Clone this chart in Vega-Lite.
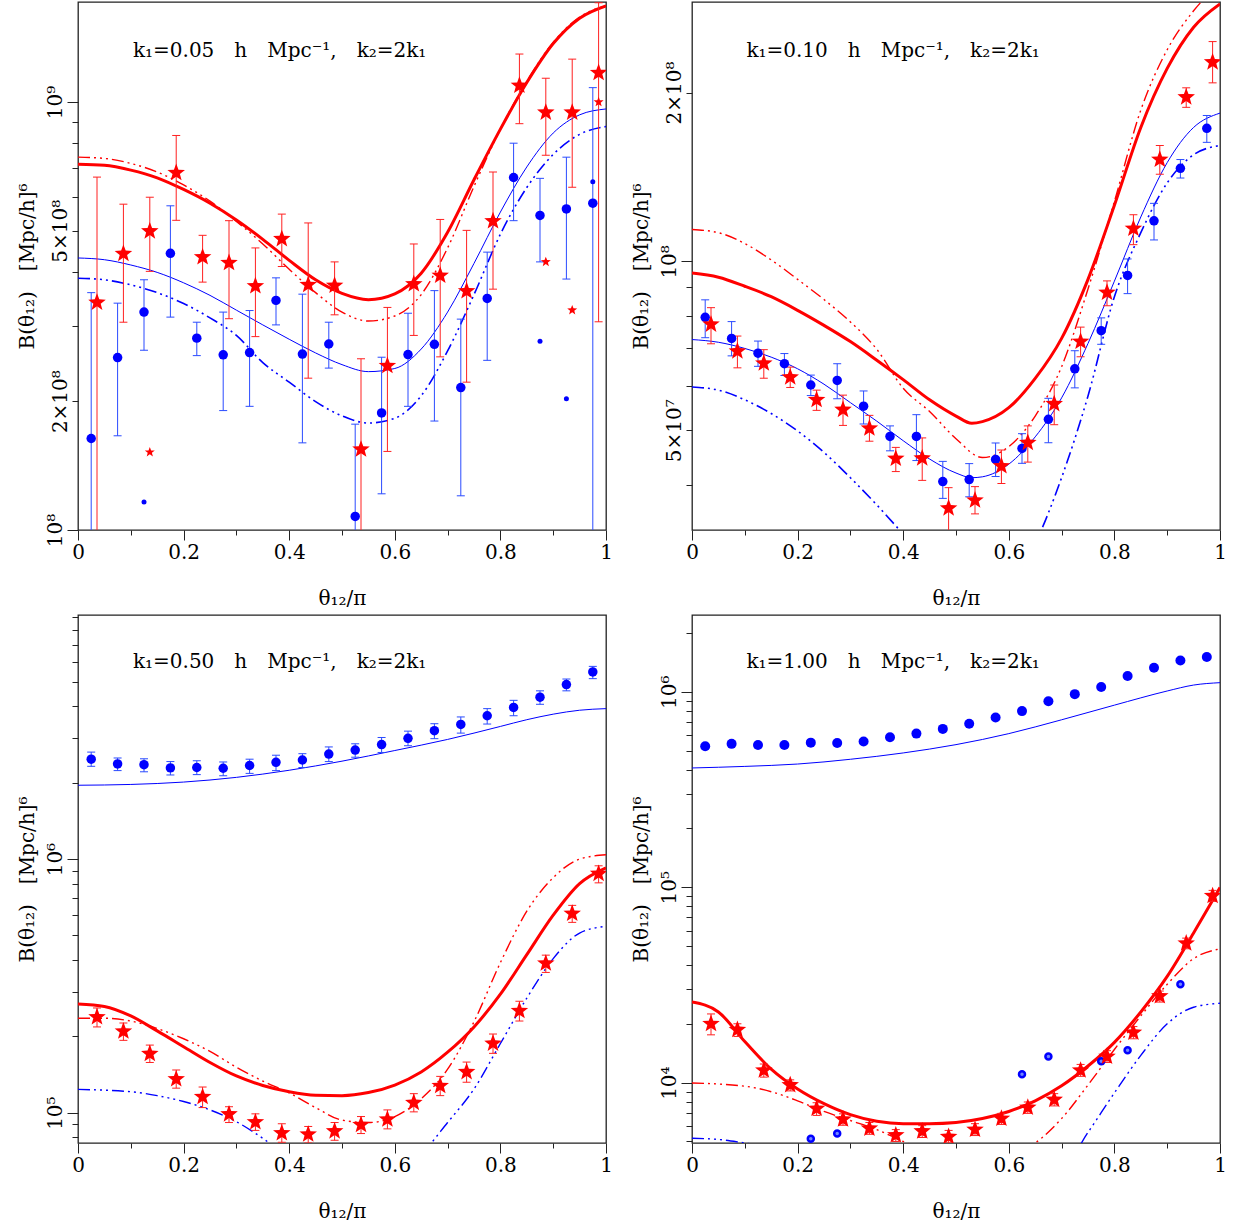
{
"$schema":"https://vega.github.io/schema/vega-lite/v6.json",
"padding":{"left":16,"top":1,"right":5,"bottom":5},
"config":{"axis":{"labelFont":"DejaVu Serif","labelFontSize":20,"titleFont":"DejaVu Serif","titleFontSize":20,"titleFontWeight":"normal","labelColor":"#000","titleColor":"#000","tickColor":"#222","grid":false,"domain":false,"labelOverlap":false,"labelFlush":false},"view":{"stroke":"#222","strokeWidth":1.3}},
"datasets":{
"p1":[
{"s":"lab","x":0.104,"y":1.318e9,"t":"k₁=0.05\u2003h\u2003Mpc⁻¹,\u2003k₂=2k₁"},
{"s":"rl","x":0,"y":7.15e8},{"s":"rl","x":0.05,"y":7.11e8},{"s":"rl","x":0.1,"y":6.93e8},{"s":"rl","x":0.15,"y":6.65e8},{"s":"rl","x":0.2,"y":6.245e8},{"s":"rl","x":0.25,"y":5.8e8},{"s":"rl","x":0.3,"y":5.3e8},{"s":"rl","x":0.35,"y":4.776e8},{"s":"rl","x":0.4,"y":4.266e8},{"s":"rl","x":0.45,"y":3.842e8},{"s":"rl","x":0.5,"y":3.571e8},{"s":"rl","x":0.55,"y":3.453e8},{"s":"rl","x":0.6,"y":3.563e8},{"s":"rl","x":0.65,"y":3.981e8},{"s":"rl","x":0.7,"y":4.96e8},{"s":"rl","x":0.75,"y":6.58e8},{"s":"rl","x":0.8,"y":8.64e8},{"s":"rl","x":0.85,"y":1.11e9},{"s":"rl","x":0.9,"y":1.369e9},{"s":"rl","x":0.95,"y":1.569e9},{"s":"rl","x":1,"y":1.677e9},
{"s":"rd","x":0,"y":7.43e8},{"s":"rd","x":0.05,"y":7.38e8},{"s":"rd","x":0.1,"y":7.185e8},{"s":"rd","x":0.15,"y":6.86e8},{"s":"rd","x":0.2,"y":6.4e8},{"s":"rd","x":0.25,"y":5.865e8},{"s":"rd","x":0.3,"y":5.26e8},{"s":"rd","x":0.35,"y":4.658e8},{"s":"rd","x":0.4,"y":4.066e8},{"s":"rd","x":0.45,"y":3.585e8},{"s":"rd","x":0.5,"y":3.229e8},{"s":"rd","x":0.55,"y":3.077e8},{"s":"rd","x":0.6,"y":3.162e8},{"s":"rd","x":0.65,"y":3.548e8},{"s":"rd","x":0.7,"y":4.56e8},{"s":"rd","x":0.75,"y":6.35e8},{"s":"rd","x":0.8,"y":8.64e8},{"s":"rd","x":0.85,"y":1.117e9},{"s":"rd","x":0.9,"y":1.378e9},{"s":"rd","x":0.95,"y":1.579e9},{"s":"rd","x":1,"y":1.677e9},
{"s":"bl","x":0,"y":4.32e8},{"s":"bl","x":0.05,"y":4.28e8},{"s":"bl","x":0.1,"y":4.16e8},{"s":"bl","x":0.15,"y":3.998e8},{"s":"bl","x":0.2,"y":3.78e8},{"s":"bl","x":0.25,"y":3.533e8},{"s":"bl","x":0.3,"y":3.263e8},{"s":"bl","x":0.35,"y":3.014e8},{"s":"bl","x":0.4,"y":2.79e8},{"s":"bl","x":0.45,"y":2.592e8},{"s":"bl","x":0.5,"y":2.434e8},{"s":"bl","x":0.55,"y":2.344e8},{"s":"bl","x":0.6,"y":2.384e8},{"s":"bl","x":0.65,"y":2.647e8},{"s":"bl","x":0.7,"y":3.229e8},{"s":"bl","x":0.75,"y":4.196e8},{"s":"bl","x":0.8,"y":5.53e8},{"s":"bl","x":0.85,"y":7.05e8},{"s":"bl","x":0.9,"y":8.46e8},{"s":"bl","x":0.95,"y":9.33e8},{"s":"bl","x":1,"y":9.63e8},
{"s":"bd","x":0,"y":3.874e8},{"s":"bd","x":0.05,"y":3.842e8},{"s":"bd","x":0.1,"y":3.738e8},{"s":"bd","x":0.15,"y":3.585e8},{"s":"bd","x":0.2,"y":3.381e8},{"s":"bd","x":0.25,"y":3.13e8},{"s":"bd","x":0.3,"y":2.848e8},{"s":"bd","x":0.35,"y":2.46e8},{"s":"bd","x":0.4,"y":2.215e8},{"s":"bd","x":0.45,"y":1.995e8},{"s":"bd","x":0.5,"y":1.847e8},{"s":"bd","x":0.55,"y":1.778e8},{"s":"bd","x":0.6,"y":1.824e8},{"s":"bd","x":0.65,"y":2.059e8},{"s":"bd","x":0.7,"y":2.62e8},{"s":"bd","x":0.75,"y":3.548e8},{"s":"bd","x":0.8,"y":4.91e8},{"s":"bd","x":0.85,"y":6.31e8},{"s":"bd","x":0.9,"y":7.54e8},{"s":"bd","x":0.95,"y":8.4e8},{"s":"bd","x":1,"y":8.76e8},
{"s":"bc","x":0.025,"y":1.636e8,"lo":5e7,"hi":3.585e8},{"s":"bc","x":0.075,"y":2.528e8,"lo":1.66e8,"hi":3.388e8},{"s":"bc","x":0.125,"y":3.229e8,"lo":2.63e8,"hi":3.842e8},{"s":"bc","x":0.175,"y":4.43e8,"lo":3.143e8,"hi":5.72e8},{"s":"bc","x":0.225,"y":2.807e8,"lo":2.555e8,"hi":3.058e8},{"s":"bc","x":0.275,"y":2.566e8,"lo":1.901e8,"hi":3.229e8},{"s":"bc","x":0.325,"y":2.597e8,"lo":1.945e8,"hi":3.256e8},{"s":"bc","x":0.375,"y":3.439e8,"lo":3.014e8,"hi":3.882e8},{"s":"bc","x":0.425,"y":2.576e8,"lo":1.598e8,"hi":3.556e8},{"s":"bc","x":0.475,"y":2.72e8,"lo":2.389e8,"hi":3.058e8},{"s":"bc","x":0.525,"y":1.076e8,"lo":5e7,"hi":1.767e8},{"s":"bc","x":0.575,"y":1.877e8,"lo":1.215e8,"hi":2.533e8},{"s":"bc","x":0.625,"y":2.57e8,"lo":1.945e8,"hi":3.209e8},{"s":"bc","x":0.675,"y":2.715e8,"lo":1.797e8,"hi":3.624e8},{"s":"bc","x":0.725,"y":2.151e8,"lo":1.202e8,"hi":3.109e8},{"s":"bc","x":0.775,"y":3.475e8,"lo":2.491e8,"hi":4.458e8},{"s":"bc","x":0.825,"y":6.66e8,"lo":5.28e8,"hi":8.01e8},{"s":"bc","x":0.875,"y":5.43e8,"lo":4.23e8,"hi":6.63e8},{"s":"bc","x":0.925,"y":5.623e8,"lo":3.857e8,"hi":7.43e8},{"s":"bc","x":0.975,"y":5.8e8,"lo":5e7,"hi":1.08e9},
{"s":"bm","x":0.125,"y":1.163e8},{"s":"bm","x":0.875,"y":2.76e8},{"s":"bm","x":0.925,"y":2.025e8},{"s":"bm","x":0.975,"y":6.51e8},
{"s":"rs","x":0.036,"y":3.4e8,"lo":5e7,"hi":6.675e8},{"s":"rs","x":0.086,"y":4.42e8,"lo":3.058e8,"hi":5.77e8},{"s":"rs","x":0.136,"y":4.99e8,"lo":4.02e8,"hi":5.99e8},{"s":"rs","x":0.186,"y":6.83e8,"lo":5.29e8,"hi":8.35e8},{"s":"rs","x":0.236,"y":4.34e8,"lo":3.794e8,"hi":4.88e8},{"s":"rs","x":0.286,"y":4.21e8,"lo":3.116e8,"hi":5.28e8},{"s":"rs","x":0.336,"y":3.715e8,"lo":2.83e8,"hi":4.56e8},{"s":"rs","x":0.386,"y":4.786e8,"lo":4.126e8,"hi":5.47e8},{"s":"rs","x":0.436,"y":3.738e8,"lo":2.263e8,"hi":5.216e8},{"s":"rs","x":0.486,"y":3.724e8,"lo":3.182e8,"hi":4.23e8},{"s":"rs","x":0.536,"y":1.543e8,"lo":5e7,"hi":2.512e8},{"s":"rs","x":0.586,"y":2.419e8,"lo":1.526e8,"hi":3.311e8},{"s":"rs","x":0.636,"y":3.754e8,"lo":2.848e8,"hi":4.658e8},{"s":"rs","x":0.686,"y":3.931e8,"lo":2.538e8,"hi":5.315e8},{"s":"rs","x":0.736,"y":3.616e8,"lo":2.215e8,"hi":5.012e8},{"s":"rs","x":0.786,"y":5.27e8,"lo":3.653e8,"hi":6.86e8},{"s":"rs","x":0.836,"y":1.092e9,"lo":8.896e8,"hi":1.294e9},{"s":"rs","x":0.886,"y":9.45e8,"lo":7.507e8,"hi":1.136e9},{"s":"rs","x":0.936,"y":9.45e8,"lo":6.32e8,"hi":1.259e9},{"s":"rs","x":0.986,"y":1.17e9,"lo":3.065e8,"hi":1.705e9},
{"s":"rm","x":0.136,"y":1.52e8},{"s":"rm","x":0.886,"y":4.23e8},{"s":"rm","x":0.936,"y":3.263e8},{"s":"rm","x":0.986,"y":1.0e9}
],
"p2":[
{"s":"lab","x":0.103,"y":2.37e8,"t":"k₁=0.10\u2003h\u2003Mpc⁻¹,\u2003k₂=2k₁"},
{"s":"rl","x":0,"y":9.53e7},{"s":"rl","x":0.05,"y":9.37e7},{"s":"rl","x":0.1,"y":9.03e7},{"s":"rl","x":0.15,"y":8.65e7},{"s":"rl","x":0.2,"y":8.18e7},{"s":"rl","x":0.25,"y":7.69e7},{"s":"rl","x":0.3,"y":7.195e7},{"s":"rl","x":0.35,"y":6.665e7},{"s":"rl","x":0.4,"y":6.155e7},{"s":"rl","x":0.45,"y":5.665e7},{"s":"rl","x":0.5,"y":5.3e7},{"s":"rl","x":0.53,"y":5.145e7},{"s":"rl","x":0.55,"y":5.18e7},{"s":"rl","x":0.6,"y":5.485e7},{"s":"rl","x":0.65,"y":6.185e7},{"s":"rl","x":0.7,"y":7.29e7},{"s":"rl","x":0.75,"y":9.29e7},{"s":"rl","x":0.8,"y":1.259e8},{"s":"rl","x":0.85,"y":1.733e8},{"s":"rl","x":0.9,"y":2.208e8},{"s":"rl","x":0.95,"y":2.615e8},{"s":"rl","x":1,"y":2.878e8},
{"s":"rd","x":0,"y":1.14e8},{"s":"rd","x":0.05,"y":1.125e8},{"s":"rd","x":0.1,"y":1.076e8},{"s":"rd","x":0.15,"y":1.006e8},{"s":"rd","x":0.2,"y":9.29e7},{"s":"rd","x":0.25,"y":8.55e7},{"s":"rd","x":0.3,"y":7.8e7},{"s":"rd","x":0.35,"y":6.97e7},{"s":"rd","x":0.4,"y":5.94e7},{"s":"rd","x":0.45,"y":5.4e7},{"s":"rd","x":0.5,"y":4.83e7},{"s":"rd","x":0.55,"y":4.47e7},{"s":"rd","x":0.6,"y":4.675e7},{"s":"rd","x":0.65,"y":5.3e7},{"s":"rd","x":0.7,"y":6.49e7},{"s":"rd","x":0.75,"y":8.93e7},{"s":"rd","x":0.8,"y":1.279e8},{"s":"rd","x":0.85,"y":1.861e8},{"s":"rd","x":0.9,"y":2.384e8},{"s":"rd","x":0.95,"y":2.797e8},{"s":"rd","x":1,"y":3.127e8},
{"s":"bl","x":0,"y":7.255e7},{"s":"bl","x":0.05,"y":7.175e7},{"s":"bl","x":0.1,"y":6.995e7},{"s":"bl","x":0.15,"y":6.75e7},{"s":"bl","x":0.2,"y":6.435e7},{"s":"bl","x":0.25,"y":6.04e7},{"s":"bl","x":0.3,"y":5.6e7},{"s":"bl","x":0.35,"y":5.19e7},{"s":"bl","x":0.4,"y":4.79e7},{"s":"bl","x":0.45,"y":4.443e7},{"s":"bl","x":0.5,"y":4.195e7},{"s":"bl","x":0.53,"y":4.115e7},{"s":"bl","x":0.55,"y":4.13e7},{"s":"bl","x":0.6,"y":4.35e7},{"s":"bl","x":0.65,"y":4.866e7},{"s":"bl","x":0.7,"y":5.71e7},{"s":"bl","x":0.75,"y":7.14e7},{"s":"bl","x":0.8,"y":9.22e7},{"s":"bl","x":0.85,"y":1.2e8},{"s":"bl","x":0.9,"y":1.5e8},{"s":"bl","x":0.95,"y":1.733e8},{"s":"bl","x":1,"y":1.838e8},
{"s":"bd","x":0,"y":5.97e7},{"s":"bd","x":0.05,"y":5.895e7},{"s":"bd","x":0.1,"y":5.665e7},{"s":"bd","x":0.15,"y":5.355e7},{"s":"bd","x":0.2,"y":4.985e7},{"s":"bd","x":0.25,"y":4.565e7},{"s":"bd","x":0.3,"y":4.115e7},{"s":"bd","x":0.35,"y":3.68e7},{"s":"bd","x":0.4,"y":3.265e7},{"s":"bd","x":0.45,"y":2.897e7},{"s":"bd","x":0.5,"y":2.59e7},{"s":"bd","x":0.55,"y":2.43e7},{"s":"bd","x":0.6,"y":2.59e7},{"s":"bd","x":0.65,"y":3.137e7},{"s":"bd","x":0.7,"y":4.115e7},{"s":"bd","x":0.75,"y":5.755e7},{"s":"bd","x":0.8,"y":8.65e7},{"s":"bd","x":0.85,"y":1.125e8},{"s":"bd","x":0.9,"y":1.38e8},{"s":"bd","x":0.95,"y":1.549e8},{"s":"bd","x":1,"y":1.609e8},
{"s":"bc","x":0.025,"y":7.95e7,"lo":7.31e7,"hi":8.54e7},{"s":"bc","x":0.075,"y":7.29e7,"lo":6.785e7,"hi":7.81e7},{"s":"bc","x":0.125,"y":6.86e7,"lo":6.5e7,"hi":7.21e7},{"s":"bc","x":0.175,"y":6.57e7,"lo":6.26e7,"hi":6.85e7},{"s":"bc","x":0.225,"y":6.02e7,"lo":5.765e7,"hi":6.27e7},{"s":"bc","x":0.275,"y":6.135e7,"lo":5.69e7,"hi":6.57e7},{"s":"bc","x":0.325,"y":5.52e7,"lo":5.13e7,"hi":5.875e7},{"s":"bc","x":0.375,"y":4.875e7,"lo":4.595e7,"hi":5.09e7},{"s":"bc","x":0.425,"y":4.875e7,"lo":4.415e7,"hi":5.33e7},{"s":"bc","x":0.475,"y":4.05e7,"lo":3.78e7,"hi":4.4e7},{"s":"bc","x":0.525,"y":4.083e7,"lo":3.805e7,"hi":4.36e7},{"s":"bc","x":0.575,"y":4.436e7,"lo":4.135e7,"hi":4.745e7},{"s":"bc","x":0.625,"y":4.64e7,"lo":4.365e7,"hi":4.93e7},{"s":"bc","x":0.675,"y":5.23e7,"lo":4.75e7,"hi":5.7e7},{"s":"bc","x":0.725,"y":6.435e7,"lo":5.95e7,"hi":6.93e7},{"s":"bc","x":0.775,"y":7.525e7,"lo":7.115e7,"hi":7.93e7},{"s":"bc","x":0.825,"y":9.44e7,"lo":8.76e7,"hi":1.01e8},{"s":"bc","x":0.875,"y":1.181e8,"lo":1.092e8,"hi":1.269e8},{"s":"bc","x":0.925,"y":1.465e8,"lo":1.408e8,"hi":1.519e8},{"s":"bc","x":0.975,"y":1.727e8,"lo":1.63e8,"hi":1.82e8},
{"s":"rs","x":0.036,"y":7.72e7,"lo":7.13e7,"hi":8.27e7},{"s":"rs","x":0.086,"y":6.915e7,"lo":6.46e7,"hi":7.36e7},{"s":"rs","x":0.136,"y":6.58e7,"lo":6.19e7,"hi":6.96e7},{"s":"rs","x":0.186,"y":6.215e7,"lo":5.96e7,"hi":6.48e7},{"s":"rs","x":0.236,"y":5.665e7,"lo":5.425e7,"hi":5.895e7},{"s":"rs","x":0.286,"y":5.44e7,"lo":5.1e7,"hi":5.775e7},{"s":"rs","x":0.336,"y":5.04e7,"lo":4.78e7,"hi":5.315e7},{"s":"rs","x":0.386,"y":4.45e7,"lo":4.22e7,"hi":4.66e7},{"s":"rs","x":0.436,"y":4.457e7,"lo":4.07e7,"hi":4.845e7},{"s":"rs","x":0.486,"y":3.63e7,"lo":3.3e7,"hi":3.95e7},{"s":"rs","x":0.536,"y":3.75e7,"lo":3.547e7,"hi":3.967e7},{"s":"rs","x":0.586,"y":4.316e7,"lo":4.018e7,"hi":4.61e7},{"s":"rs","x":0.636,"y":4.75e7,"lo":4.387e7,"hi":5.09e7},{"s":"rs","x":0.686,"y":5.57e7,"lo":5.115e7,"hi":6.02e7},{"s":"rs","x":0.736,"y":7.195e7,"lo":6.76e7,"hi":7.635e7},{"s":"rs","x":0.786,"y":8.8e7,"lo":8.335e7,"hi":9.23e7},{"s":"rs","x":0.836,"y":1.144e8,"lo":1.071e8,"hi":1.211e8},{"s":"rs","x":0.886,"y":1.519e8,"lo":1.43e8,"hi":1.609e8},{"s":"rs","x":0.936,"y":1.962e8,"lo":1.882e8,"hi":2.039e8},{"s":"rs","x":0.986,"y":2.265e8,"lo":2.081e8,"hi":2.465e8}
],
"p3":[
{"s":"lab","x":0.104,"y":5.99e6,"t":"k₁=0.50\u2003h\u2003Mpc⁻¹,\u2003k₂=2k₁"},
{"s":"bl","x":0,"y":1.956e6},{"s":"bl","x":0.1,"y":1.97e6},{"s":"bl","x":0.2,"y":2.013e6},{"s":"bl","x":0.3,"y":2.101e6},{"s":"bl","x":0.4,"y":2.241e6},{"s":"bl","x":0.5,"y":2.434e6},{"s":"bl","x":0.6,"y":2.681e6},{"s":"bl","x":0.7,"y":2.965e6},{"s":"bl","x":0.8,"y":3.337e6},{"s":"bl","x":0.85,"y":3.547e6},{"s":"bl","x":0.9,"y":3.73e6},{"s":"bl","x":0.95,"y":3.866e6},{"s":"bl","x":1,"y":3.922e6},
{"s":"rl","x":0,"y":2.682e5},{"s":"rl","x":0.05,"y":2.624e5},{"s":"rl","x":0.1,"y":2.407e5},{"s":"rl","x":0.15,"y":2.101e5},{"s":"rl","x":0.2,"y":1.82e5},{"s":"rl","x":0.25,"y":1.577e5},{"s":"rl","x":0.3,"y":1.395e5},{"s":"rl","x":0.35,"y":1.28e5},{"s":"rl","x":0.4,"y":1.209e5},{"s":"rl","x":0.45,"y":1.171e5},{"s":"rl","x":0.5,"y":1.167e5},{"s":"rl","x":0.55,"y":1.2e5},{"s":"rl","x":0.6,"y":1.285e5},{"s":"rl","x":0.65,"y":1.447e5},{"s":"rl","x":0.7,"y":1.731e5},{"s":"rl","x":0.75,"y":2.178e5},{"s":"rl","x":0.8,"y":2.933e5},{"s":"rl","x":0.85,"y":4.2e5},{"s":"rl","x":0.9,"y":6.01e5},{"s":"rl","x":0.95,"y":8.006e5},{"s":"rl","x":1,"y":9.24e5},
{"s":"rd","x":0,"y":2.357e5},{"s":"rd","x":0.05,"y":2.357e5},{"s":"rd","x":0.1,"y":2.298e5},{"s":"rd","x":0.15,"y":2.147e5},{"s":"rd","x":0.2,"y":1.956e5},{"s":"rd","x":0.25,"y":1.743e5},{"s":"rd","x":0.3,"y":1.511e5},{"s":"rd","x":0.35,"y":1.332e5},{"s":"rd","x":0.4,"y":1.196e5},{"s":"rd","x":0.45,"y":1.047e5},{"s":"rd","x":0.5,"y":9.34e4},{"s":"rd","x":0.55,"y":9.14e4},{"s":"rd","x":0.6,"y":9.65e4},{"s":"rd","x":0.65,"y":1.134e5},{"s":"rd","x":0.7,"y":1.484e5},{"s":"rd","x":0.75,"y":2.282e5},{"s":"rd","x":0.8,"y":3.907e5},{"s":"rd","x":0.85,"y":6.23e5},{"s":"rd","x":0.9,"y":8.45e5},{"s":"rd","x":0.95,"y":1.0e6},{"s":"rd","x":1,"y":1.04e6},
{"s":"bd","x":0,"y":1.235e5},{"s":"bd","x":0.1,"y":1.209e5},{"s":"bd","x":0.15,"y":1.167e5},{"s":"bd","x":0.2,"y":1.106e5},{"s":"bd","x":0.25,"y":1.025e5},{"s":"bd","x":0.3,"y":9.21e4},{"s":"bd","x":0.35,"y":7.92e4},{"s":"bd","x":0.4,"y":6.62e4},{"s":"bd","x":0.5,"y":4.97e4},{"s":"bd","x":0.6,"y":5.74e4},{"s":"bd","x":0.65,"y":6.86e4},{"s":"bd","x":0.7,"y":9.14e4},{"s":"bd","x":0.75,"y":1.24e5},{"s":"bd","x":0.8,"y":1.874e5},{"s":"bd","x":0.85,"y":2.83e5},{"s":"bd","x":0.9,"y":4.05e5},{"s":"bd","x":0.95,"y":5.11e5},{"s":"bd","x":1,"y":5.435e5},
{"s":"bc","x":0.025,"y":2.478e6,"lo":2.323e6,"hi":2.643e6},{"s":"bc","x":0.075,"y":2.374e6,"lo":2.234e6,"hi":2.505e6},{"s":"bc","x":0.125,"y":2.357e6,"lo":2.21e6,"hi":2.487e6},{"s":"bc","x":0.175,"y":2.29e6,"lo":2.147e6,"hi":2.425e6},{"s":"bc","x":0.225,"y":2.298e6,"lo":2.154e6,"hi":2.443e6},{"s":"bc","x":0.275,"y":2.282e6,"lo":2.132e6,"hi":2.416e6},{"s":"bc","x":0.325,"y":2.34e6,"lo":2.178e6,"hi":2.478e6},{"s":"bc","x":0.375,"y":2.408e6,"lo":2.234e6,"hi":2.569e6},{"s":"bc","x":0.425,"y":2.46e6,"lo":2.298e6,"hi":2.605e6},{"s":"bc","x":0.475,"y":2.596e6,"lo":2.425e6,"hi":2.77e6},{"s":"bc","x":0.525,"y":2.691e6,"lo":2.523e6,"hi":2.85e6},{"s":"bc","x":0.575,"y":2.83e6,"lo":2.634e6,"hi":3.018e6},{"s":"bc","x":0.625,"y":2.996e6,"lo":2.8e6,"hi":3.197e6},{"s":"bc","x":0.675,"y":3.21e6,"lo":2.986e6,"hi":3.42e6},{"s":"bc","x":0.725,"y":3.398e6,"lo":3.14e6,"hi":3.637e6},{"s":"bc","x":0.775,"y":3.677e6,"lo":3.41e6,"hi":3.922e6},{"s":"bc","x":0.825,"y":3.964e6,"lo":3.677e6,"hi":4.229e6},{"s":"bc","x":0.875,"y":4.352e6,"lo":4.08e6,"hi":4.61e6},{"s":"bc","x":0.925,"y":4.88e6,"lo":4.61e6,"hi":5.132e6},{"s":"bc","x":0.975,"y":5.475e6,"lo":5.15e6,"hi":5.757e6},
{"s":"rs","x":0.036,"y":2.382e5,"lo":2.178e5,"hi":2.587e5},{"s":"rs","x":0.086,"y":2.094e5,"lo":1.928e5,"hi":2.257e5},{"s":"rs","x":0.136,"y":1.707e5,"lo":1.577e5,"hi":1.847e5},{"s":"rs","x":0.186,"y":1.356e5,"lo":1.249e5,"hi":1.473e5},{"s":"rs","x":0.236,"y":1.154e5,"lo":1.047e5,"hi":1.262e5},{"s":"rs","x":0.286,"y":9.858e4,"lo":9.14e4,"hi":1.055e5},{"s":"rs","x":0.336,"y":9.175e4,"lo":8.51e4,"hi":9.89e4},{"s":"rs","x":0.386,"y":8.3e4,"lo":7.64e4,"hi":9.04e4},{"s":"rs","x":0.436,"y":8.21e4,"lo":7.59e4,"hi":8.82e4},{"s":"rs","x":0.486,"y":8.45e4,"lo":7.78e4,"hi":9.14e4},{"s":"rs","x":0.536,"y":8.95e4,"lo":8.27e4,"hi":9.65e4},{"s":"rs","x":0.586,"y":9.41e4,"lo":8.63e4,"hi":1.025e5},{"s":"rs","x":0.636,"y":1.094e5,"lo":1.007e5,"hi":1.188e5},{"s":"rs","x":0.686,"y":1.276e5,"lo":1.167e5,"hi":1.39e5},{"s":"rs","x":0.736,"y":1.447e5,"lo":1.318e5,"hi":1.583e5},{"s":"rs","x":0.786,"y":1.874e5,"lo":1.713e5,"hi":2.042e5},{"s":"rs","x":0.836,"y":2.522e5,"lo":2.298e5,"hi":2.75e5},{"s":"rs","x":0.886,"y":3.88e5,"lo":3.573e5,"hi":4.18e5},{"s":"rs","x":0.936,"y":6.1e5,"lo":5.63e5,"hi":6.57e5},{"s":"rs","x":0.986,"y":8.76e5,"lo":8.06e5,"hi":9.41e5}
],
"p4":[
{"s":"lab","x":0.103,"y":1.418e6,"t":"k₁=1.00\u2003h\u2003Mpc⁻¹,\u2003k₂=2k₁"},
{"s":"bl","x":0,"y":4.074e5},{"s":"bl","x":0.1,"y":4.15e5},{"s":"bl","x":0.2,"y":4.267e5},{"s":"bl","x":0.3,"y":4.513e5},{"s":"bl","x":0.4,"y":4.863e5},{"s":"bl","x":0.5,"y":5.363e5},{"s":"bl","x":0.6,"y":6.106e5},{"s":"bl","x":0.7,"y":7.187e5},{"s":"bl","x":0.8,"y":8.54e5},{"s":"bl","x":0.9,"y":1.009e6},{"s":"bl","x":0.95,"y":1.082e6},{"s":"bl","x":1,"y":1.113e6},
{"s":"rl","x":0,"y":2.583e4},{"s":"rl","x":0.05,"y":2.299e4},{"s":"rl","x":0.1,"y":1.622e4},{"s":"rl","x":0.15,"y":1.172e4},{"s":"rl","x":0.2,"y":9.28e3},{"s":"rl","x":0.25,"y":7.81e3},{"s":"rl","x":0.3,"y":6.86e3},{"s":"rl","x":0.35,"y":6.34e3},{"s":"rl","x":0.4,"y":6.165e3},{"s":"rl","x":0.45,"y":6.165e3},{"s":"rl","x":0.5,"y":6.25e3},{"s":"rl","x":0.55,"y":6.55e3},{"s":"rl","x":0.6,"y":7.12e3},{"s":"rl","x":0.65,"y":8.07e3},{"s":"rl","x":0.7,"y":9.63e3},{"s":"rl","x":0.75,"y":1.216e4},{"s":"rl","x":0.8,"y":1.607e4},{"s":"rl","x":0.85,"y":2.299e4},{"s":"rl","x":0.9,"y":3.495e4},{"s":"rl","x":0.95,"y":5.83e4},{"s":"rl","x":1,"y":9.95e4},
{"s":"rd","x":0,"y":9.95e3},{"s":"rd","x":0.1,"y":9.59e3},{"s":"rd","x":0.15,"y":8.985e3},{"s":"rd","x":0.2,"y":8.07e3},{"s":"rd","x":0.25,"y":7.12e3},{"s":"rd","x":0.3,"y":6.4e3},{"s":"rd","x":0.35,"y":5.75e3},{"s":"rd","x":0.4,"y":5.0e3},{"s":"rd","x":0.45,"y":4.41e3},{"s":"rd","x":0.5,"y":4.02e3},{"s":"rd","x":0.55,"y":3.93e3},{"s":"rd","x":0.6,"y":4.21e3},{"s":"rd","x":0.65,"y":4.91e3},{"s":"rd","x":0.7,"y":6.55e3},{"s":"rd","x":0.75,"y":9.725e3},{"s":"rd","x":0.8,"y":1.478e4},{"s":"rd","x":0.85,"y":2.195e4},{"s":"rd","x":0.9,"y":3.185e4},{"s":"rd","x":0.95,"y":4.31e4},{"s":"rd","x":1,"y":4.84e4},
{"s":"bd","x":0,"y":5.19e3},{"s":"bd","x":0.05,"y":5.12e3},{"s":"bd","x":0.1,"y":4.91e3},{"s":"bd","x":0.15,"y":4.69e3},{"s":"bd","x":0.3,"y":3.93e3},{"s":"bd","x":0.5,"y":3.11e3},{"s":"bd","x":0.6,"y":3.18e3},{"s":"bd","x":0.7,"y":3.58e3},{"s":"bd","x":0.75,"y":5.565e3},{"s":"bd","x":0.8,"y":8.86e3},{"s":"bd","x":0.85,"y":1.379e4},{"s":"bd","x":0.9,"y":2.0e4},{"s":"bd","x":0.95,"y":2.431e4},{"s":"bd","x":1,"y":2.547e4},
{"s":"bc","x":0.025,"y":5.264e5},{"s":"bc","x":0.075,"y":5.413e5},{"s":"bc","x":0.125,"y":5.338e5},{"s":"bc","x":0.175,"y":5.338e5},{"s":"bc","x":0.225,"y":5.49e5},{"s":"bc","x":0.275,"y":5.464e5},{"s":"bc","x":0.325,"y":5.566e5},{"s":"bc","x":0.375,"y":5.856e5},{"s":"bc","x":0.425,"y":6.106e5},{"s":"bc","x":0.475,"y":6.455e5},{"s":"bc","x":0.525,"y":6.86e5},{"s":"bc","x":0.575,"y":7.39e5},{"s":"bc","x":0.625,"y":7.96e5},{"s":"bc","x":0.675,"y":8.944e5},{"s":"bc","x":0.725,"y":9.72e5},{"s":"bc","x":0.775,"y":1.057e6},{"s":"bc","x":0.825,"y":1.205e6},{"s":"bc","x":0.875,"y":1.328e6},{"s":"bc","x":0.925,"y":1.444e6},{"s":"bc","x":0.975,"y":1.506e6},
{"s":"bm","x":0.225,"y":5.166e3},{"s":"bm","x":0.275,"y":5.49e3},{"s":"bm","x":0.625,"y":1.103e4},{"s":"bm","x":0.675,"y":1.36e4},{"s":"bm","x":0.775,"y":1.285e4},{"s":"bm","x":0.825,"y":1.464e4},{"s":"bm","x":0.925,"y":3.185e4},
{"s":"rs","x":0.036,"y":2.0e4,"lo":1.756e4,"hi":2.246e4},{"s":"rs","x":0.086,"y":1.865e4,"lo":1.723e4,"hi":2.0e4},{"s":"rs","x":0.136,"y":1.155e4,"lo":1.067e4,"hi":1.245e4},{"s":"rs","x":0.186,"y":9.725e3,"lo":9.07e3,"hi":1.033e4},{"s":"rs","x":0.236,"y":7.36e3,"lo":6.795e3,"hi":7.89e3},{"s":"rs","x":0.286,"y":6.49e3,"lo":6.05e3,"hi":6.925e3},{"s":"rs","x":0.336,"y":5.83e3,"lo":5.44e3,"hi":6.25e3},{"s":"rs","x":0.386,"y":5.386e3,"lo":5.0e3,"hi":5.75e3},{"s":"rs","x":0.436,"y":5.643e3,"lo":5.238e3,"hi":6.023e3},{"s":"rs","x":0.486,"y":5.286e3,"lo":4.91e3,"hi":5.695e3},{"s":"rs","x":0.536,"y":5.75e3,"lo":5.36e3,"hi":6.165e3},{"s":"rs","x":0.586,"y":6.55e3,"lo":6.11e3,"hi":6.96e3},{"s":"rs","x":0.636,"y":7.46e3,"lo":6.96e3,"hi":7.96e3},{"s":"rs","x":0.686,"y":8.18e3,"lo":7.6e3,"hi":8.78e3},{"s":"rs","x":0.736,"y":1.155e4,"lo":1.077e4,"hi":1.239e4},{"s":"rs","x":0.786,"y":1.36e4,"lo":1.268e4,"hi":1.457e4},{"s":"rs","x":0.836,"y":1.805e4,"lo":1.676e4,"hi":1.936e4},{"s":"rs","x":0.886,"y":2.77e4,"lo":2.583e4,"hi":2.942e4},{"s":"rs","x":0.936,"y":5.165e4,"lo":4.84e4,"hi":5.487e4},{"s":"rs","x":0.986,"y":9.03e4,"lo":8.46e4,"hi":9.63e4}
]
},
"concat":[
{"width":528,"height":528,"data":{"name":"p1"},
"encoding":{
"x":{"field":"x","type":"quantitative","scale":{"domain":[0,1],"nice":false,"zero":false},"axis":{"values":[0,0.1,0.2,0.3,0.4,0.5,0.6,0.7,0.8,0.9,1],"labelExpr":"datum.value==0?'0':datum.value==0.2?'0.2':datum.value==0.4?'0.4':datum.value==0.6?'0.6':datum.value==0.8?'0.8':datum.value==1?'1':''","tickSize":{"condition":{"test":"datum.value==0||datum.value==0.2||datum.value==0.4||datum.value==0.6||datum.value==0.8||datum.value==1","value":10},"value":5},"labelPadding":2,"title":"θ₁₂/π","titlePadding":26}},
"y":{"field":"y","type":"quantitative","scale":{"type":"log","domain":[1e8,1.712e9],"nice":false},"axis":{"values":[1e8,2e8,3e8,4e8,5e8,6e8,7e8,8e8,9e8,1e9],"labelExpr":"datum.value==1e8?'10⁸':datum.value==2e8?'2×10⁸':datum.value==5e8?'5×10⁸':datum.value==1e9?'10⁹':''","tickSize":{"condition":{"test":"datum.value==1e8||datum.value==1e9","value":11},"value":6},"labelAngle":270,"labelAlign":"center","labelBaseline":"bottom","labelPadding":2,"title":"B(θ₁₂)\u2003[Mpc/h]⁶","titlePadding":8}}},
"layer":[
{"transform":[{"filter":"datum.s=='bd'"}],"mark":{"type":"line","color":"#0000ff","strokeWidth":1.6,"strokeDash":[12,4,2,4,2,4,2,4],"clip":true,"interpolate":"monotone"}},
{"transform":[{"filter":"datum.s=='bl'"}],"mark":{"type":"line","color":"#0000ff","strokeWidth":1,"clip":true,"interpolate":"monotone"}},
{"transform":[{"filter":"datum.s=='rd'"}],"mark":{"type":"line","color":"#ff0000","strokeWidth":1.4,"strokeDash":[12,4,2,4,2,4,2,4],"clip":true,"interpolate":"monotone"}},
{"transform":[{"filter":"datum.s=='rl'"}],"mark":{"type":"line","color":"#ff0000","strokeWidth":3,"clip":true,"interpolate":"monotone"}},
{"transform":[{"filter":"datum.s=='bc'"}],"mark":{"type":"rule","color":"#2a4bff","strokeWidth":1,"clip":true},"encoding":{"y":{"field":"lo","type":"quantitative","scale":{"type":"log","domain":[1e8,1.712e9],"nice":false}},"y2":{"field":"hi"}}},
{"transform":[{"filter":"datum.s=='bc'"}],"mark":{"type":"point","shape":"M-1,0L1,0","filled":false,"color":"#2a4bff","strokeWidth":1,"size":64,"opacity":1,"clip":true},"encoding":{"y":{"field":"lo","type":"quantitative","scale":{"type":"log","domain":[1e8,1.712e9],"nice":false}}}},
{"transform":[{"filter":"datum.s=='bc'"}],"mark":{"type":"point","shape":"M-1,0L1,0","filled":false,"color":"#2a4bff","strokeWidth":1,"size":64,"opacity":1,"clip":true},"encoding":{"y":{"field":"hi","type":"quantitative","scale":{"type":"log","domain":[1e8,1.712e9],"nice":false}}}},
{"transform":[{"filter":"datum.s=='rs'"}],"mark":{"type":"rule","color":"#ff2020","strokeWidth":1,"clip":true},"encoding":{"y":{"field":"lo","type":"quantitative","scale":{"type":"log","domain":[1e8,1.712e9],"nice":false}},"y2":{"field":"hi"}}},
{"transform":[{"filter":"datum.s=='rs'"}],"mark":{"type":"point","shape":"M-1,0L1,0","filled":false,"color":"#ff2020","strokeWidth":1,"size":64,"opacity":1,"clip":true},"encoding":{"y":{"field":"lo","type":"quantitative","scale":{"type":"log","domain":[1e8,1.712e9],"nice":false}}}},
{"transform":[{"filter":"datum.s=='rs'"}],"mark":{"type":"point","shape":"M-1,0L1,0","filled":false,"color":"#ff2020","strokeWidth":1,"size":64,"opacity":1,"clip":true},"encoding":{"y":{"field":"hi","type":"quantitative","scale":{"type":"log","domain":[1e8,1.712e9],"nice":false}}}},
{"transform":[{"filter":"datum.s=='bc'"}],"mark":{"type":"point","shape":"circle","filled":true,"color":"#0000ff","size":90,"opacity":1,"clip":true}},
{"transform":[{"filter":"datum.s=='bm'"}],"mark":{"type":"point","shape":"circle","filled":true,"color":"#0000ff","size":25,"opacity":1,"clip":true}},
{"transform":[{"filter":"datum.s=='rs'"}],"mark":{"type":"point","shape":"M0,-1L0.247,-0.34L0.951,-0.309L0.399,0.13L0.588,0.809L0,0.42L-0.588,0.809L-0.399,0.13L-0.951,-0.309L-0.247,-0.34Z","filled":true,"color":"#ff0000","size":340,"opacity":1,"clip":true}},
{"transform":[{"filter":"datum.s=='rm'"}],"mark":{"type":"point","shape":"M0,-1L0.247,-0.34L0.951,-0.309L0.399,0.13L0.588,0.809L0,0.42L-0.588,0.809L-0.399,0.13L-0.951,-0.309L-0.247,-0.34Z","filled":true,"color":"#ff0000","size":110,"opacity":1,"clip":true}},
{"transform":[{"filter":"datum.s=='lab'"}],"mark":{"type":"text","align":"left","baseline":"middle","font":"DejaVu Serif","fontSize":20,"color":"#000"},"encoding":{"text":{"field":"t"}}}
]},
{"width":528,"height":528,"data":{"name":"p2"},
"encoding":{
"x":{"field":"x","type":"quantitative","scale":{"domain":[0,1],"nice":false,"zero":false},"axis":{"values":[0,0.1,0.2,0.3,0.4,0.5,0.6,0.7,0.8,0.9,1],"labelExpr":"datum.value==0?'0':datum.value==0.2?'0.2':datum.value==0.4?'0.4':datum.value==0.6?'0.6':datum.value==0.8?'0.8':datum.value==1?'1':''","tickSize":{"condition":{"test":"datum.value==0||datum.value==0.2||datum.value==0.4||datum.value==0.6||datum.value==0.8||datum.value==1","value":10},"value":5},"labelPadding":2,"title":"θ₁₂/π","titlePadding":26}},
"y":{"field":"y","type":"quantitative","scale":{"type":"log","domain":[3.32e7,2.9e8],"nice":false},"axis":{"values":[4e7,5e7,6e7,7e7,8e7,9e7,1e8,2e8],"labelExpr":"datum.value==5e7?'5×10⁷':datum.value==1e8?'10⁸':datum.value==2e8?'2×10⁸':''","tickSize":{"condition":{"test":"datum.value==1e8","value":11},"value":6},"labelAngle":270,"labelAlign":"center","labelBaseline":"bottom","labelPadding":2,"title":"B(θ₁₂)\u2003[Mpc/h]⁶","titlePadding":8}}},
"layer":[
{"transform":[{"filter":"datum.s=='bd'"}],"mark":{"type":"line","color":"#0000ff","strokeWidth":1.6,"strokeDash":[12,4,2,4,2,4,2,4],"clip":true,"interpolate":"monotone"}},
{"transform":[{"filter":"datum.s=='bl'"}],"mark":{"type":"line","color":"#0000ff","strokeWidth":1,"clip":true,"interpolate":"monotone"}},
{"transform":[{"filter":"datum.s=='rd'"}],"mark":{"type":"line","color":"#ff0000","strokeWidth":1.4,"strokeDash":[12,4,2,4,2,4,2,4],"clip":true,"interpolate":"monotone"}},
{"transform":[{"filter":"datum.s=='rl'"}],"mark":{"type":"line","color":"#ff0000","strokeWidth":3,"clip":true,"interpolate":"monotone"}},
{"transform":[{"filter":"datum.s=='bc'"}],"mark":{"type":"rule","color":"#2a4bff","strokeWidth":1,"clip":true},"encoding":{"y":{"field":"lo","type":"quantitative","scale":{"type":"log","domain":[3.32e7,2.9e8],"nice":false}},"y2":{"field":"hi"}}},
{"transform":[{"filter":"datum.s=='bc'"}],"mark":{"type":"point","shape":"M-1,0L1,0","filled":false,"color":"#2a4bff","strokeWidth":1,"size":64,"opacity":1,"clip":true},"encoding":{"y":{"field":"lo","type":"quantitative","scale":{"type":"log","domain":[3.32e7,2.9e8],"nice":false}}}},
{"transform":[{"filter":"datum.s=='bc'"}],"mark":{"type":"point","shape":"M-1,0L1,0","filled":false,"color":"#2a4bff","strokeWidth":1,"size":64,"opacity":1,"clip":true},"encoding":{"y":{"field":"hi","type":"quantitative","scale":{"type":"log","domain":[3.32e7,2.9e8],"nice":false}}}},
{"transform":[{"filter":"datum.s=='rs'"}],"mark":{"type":"rule","color":"#ff2020","strokeWidth":1,"clip":true},"encoding":{"y":{"field":"lo","type":"quantitative","scale":{"type":"log","domain":[3.32e7,2.9e8],"nice":false}},"y2":{"field":"hi"}}},
{"transform":[{"filter":"datum.s=='rs'"}],"mark":{"type":"point","shape":"M-1,0L1,0","filled":false,"color":"#ff2020","strokeWidth":1,"size":64,"opacity":1,"clip":true},"encoding":{"y":{"field":"lo","type":"quantitative","scale":{"type":"log","domain":[3.32e7,2.9e8],"nice":false}}}},
{"transform":[{"filter":"datum.s=='rs'"}],"mark":{"type":"point","shape":"M-1,0L1,0","filled":false,"color":"#ff2020","strokeWidth":1,"size":64,"opacity":1,"clip":true},"encoding":{"y":{"field":"hi","type":"quantitative","scale":{"type":"log","domain":[3.32e7,2.9e8],"nice":false}}}},
{"transform":[{"filter":"datum.s=='bc'"}],"mark":{"type":"point","shape":"circle","filled":true,"color":"#0000ff","size":90,"opacity":1,"clip":true}},
{"transform":[{"filter":"datum.s=='rs'"}],"mark":{"type":"point","shape":"M0,-1L0.247,-0.34L0.951,-0.309L0.399,0.13L0.588,0.809L0,0.42L-0.588,0.809L-0.399,0.13L-0.951,-0.309L-0.247,-0.34Z","filled":true,"color":"#ff0000","size":340,"opacity":1,"clip":true}},
{"transform":[{"filter":"datum.s=='lab'"}],"mark":{"type":"text","align":"left","baseline":"middle","font":"DejaVu Serif","fontSize":20,"color":"#000"},"encoding":{"text":{"field":"t"}}}
]},
{"width":528,"height":528,"data":{"name":"p3"},
"encoding":{
"x":{"field":"x","type":"quantitative","scale":{"domain":[0,1],"nice":false,"zero":false},"axis":{"values":[0,0.1,0.2,0.3,0.4,0.5,0.6,0.7,0.8,0.9,1],"labelExpr":"datum.value==0?'0':datum.value==0.2?'0.2':datum.value==0.4?'0.4':datum.value==0.6?'0.6':datum.value==0.8?'0.8':datum.value==1?'1':''","tickSize":{"condition":{"test":"datum.value==0||datum.value==0.2||datum.value==0.4||datum.value==0.6||datum.value==0.8||datum.value==1","value":10},"value":5},"labelPadding":2,"title":"θ₁₂/π","titlePadding":26}},
"y":{"field":"y","type":"quantitative","scale":{"type":"log","domain":[7.59e4,9.18e6],"nice":false},"axis":{"values":[8e4,9e4,1e5,2e5,3e5,4e5,5e5,6e5,7e5,8e5,9e5,1e6,2e6,3e6,4e6,5e6,6e6,7e6,8e6,9e6],"labelExpr":"datum.value==1e5?'10⁵':datum.value==1e6?'10⁶':''","tickSize":{"condition":{"test":"datum.value==1e5||datum.value==1e6","value":11},"value":6},"labelAngle":270,"labelAlign":"center","labelBaseline":"bottom","labelPadding":2,"title":"B(θ₁₂)\u2003[Mpc/h]⁶","titlePadding":8}}},
"layer":[
{"transform":[{"filter":"datum.s=='bd'"}],"mark":{"type":"line","color":"#0000ff","strokeWidth":1.4,"strokeDash":[12,4,2,4,2,4,2,4],"clip":true,"interpolate":"monotone"}},
{"transform":[{"filter":"datum.s=='bl'"}],"mark":{"type":"line","color":"#0000ff","strokeWidth":1,"clip":true,"interpolate":"monotone"}},
{"transform":[{"filter":"datum.s=='rd'"}],"mark":{"type":"line","color":"#ff0000","strokeWidth":1.4,"strokeDash":[12,4,2,4,2,4,2,4],"clip":true,"interpolate":"monotone"}},
{"transform":[{"filter":"datum.s=='rl'"}],"mark":{"type":"line","color":"#ff0000","strokeWidth":3,"clip":true,"interpolate":"monotone"}},
{"transform":[{"filter":"datum.s=='bc'"}],"mark":{"type":"rule","color":"#2a4bff","strokeWidth":1,"clip":true},"encoding":{"y":{"field":"lo","type":"quantitative","scale":{"type":"log","domain":[7.59e4,9.18e6],"nice":false}},"y2":{"field":"hi"}}},
{"transform":[{"filter":"datum.s=='bc'"}],"mark":{"type":"point","shape":"M-1,0L1,0","filled":false,"color":"#2a4bff","strokeWidth":1,"size":64,"opacity":1,"clip":true},"encoding":{"y":{"field":"lo","type":"quantitative","scale":{"type":"log","domain":[7.59e4,9.18e6],"nice":false}}}},
{"transform":[{"filter":"datum.s=='bc'"}],"mark":{"type":"point","shape":"M-1,0L1,0","filled":false,"color":"#2a4bff","strokeWidth":1,"size":64,"opacity":1,"clip":true},"encoding":{"y":{"field":"hi","type":"quantitative","scale":{"type":"log","domain":[7.59e4,9.18e6],"nice":false}}}},
{"transform":[{"filter":"datum.s=='rs'"}],"mark":{"type":"rule","color":"#ff2020","strokeWidth":1,"clip":true},"encoding":{"y":{"field":"lo","type":"quantitative","scale":{"type":"log","domain":[7.59e4,9.18e6],"nice":false}},"y2":{"field":"hi"}}},
{"transform":[{"filter":"datum.s=='rs'"}],"mark":{"type":"point","shape":"M-1,0L1,0","filled":false,"color":"#ff2020","strokeWidth":1,"size":64,"opacity":1,"clip":true},"encoding":{"y":{"field":"lo","type":"quantitative","scale":{"type":"log","domain":[7.59e4,9.18e6],"nice":false}}}},
{"transform":[{"filter":"datum.s=='rs'"}],"mark":{"type":"point","shape":"M-1,0L1,0","filled":false,"color":"#ff2020","strokeWidth":1,"size":64,"opacity":1,"clip":true},"encoding":{"y":{"field":"hi","type":"quantitative","scale":{"type":"log","domain":[7.59e4,9.18e6],"nice":false}}}},
{"transform":[{"filter":"datum.s=='bc'"}],"mark":{"type":"point","shape":"circle","filled":true,"color":"#0000ff","size":90,"opacity":1,"clip":true}},
{"transform":[{"filter":"datum.s=='rs'"}],"mark":{"type":"point","shape":"M0,-1L0.247,-0.34L0.951,-0.309L0.399,0.13L0.588,0.809L0,0.42L-0.588,0.809L-0.399,0.13L-0.951,-0.309L-0.247,-0.34Z","filled":true,"color":"#ff0000","size":340,"opacity":1,"clip":true}},
{"transform":[{"filter":"datum.s=='lab'"}],"mark":{"type":"text","align":"left","baseline":"middle","font":"DejaVu Serif","fontSize":20,"color":"#000"},"encoding":{"text":{"field":"t"}}}
]},
{"width":528,"height":528,"data":{"name":"p4"},
"encoding":{
"x":{"field":"x","type":"quantitative","scale":{"domain":[0,1],"nice":false,"zero":false},"axis":{"values":[0,0.1,0.2,0.3,0.4,0.5,0.6,0.7,0.8,0.9,1],"labelExpr":"datum.value==0?'0':datum.value==0.2?'0.2':datum.value==0.4?'0.4':datum.value==0.6?'0.6':datum.value==0.8?'0.8':datum.value==1?'1':''","tickSize":{"condition":{"test":"datum.value==0||datum.value==0.2||datum.value==0.4||datum.value==0.6||datum.value==0.8||datum.value==1","value":10},"value":5},"labelPadding":2,"title":"θ₁₂/π","titlePadding":26}},
"y":{"field":"y","type":"quantitative","scale":{"type":"log","domain":[4.91e3,2.47e6],"nice":false},"axis":{"values":[5e3,6e3,7e3,8e3,9e3,1e4,2e4,3e4,4e4,5e4,6e4,7e4,8e4,9e4,1e5,2e5,3e5,4e5,5e5,6e5,7e5,8e5,9e5,1e6,2e6],"labelExpr":"datum.value==1e4?'10⁴':datum.value==1e5?'10⁵':datum.value==1e6?'10⁶':''","tickSize":{"condition":{"test":"datum.value==1e4||datum.value==1e5||datum.value==1e6","value":11},"value":6},"labelAngle":270,"labelAlign":"center","labelBaseline":"bottom","labelPadding":2,"title":"B(θ₁₂)\u2003[Mpc/h]⁶","titlePadding":8}}},
"layer":[
{"transform":[{"filter":"datum.s=='bd'"}],"mark":{"type":"line","color":"#0000ff","strokeWidth":1.4,"strokeDash":[12,4,2,4,2,4,2,4],"clip":true,"interpolate":"monotone"}},
{"transform":[{"filter":"datum.s=='bl'"}],"mark":{"type":"line","color":"#0000ff","strokeWidth":1,"clip":true,"interpolate":"monotone"}},
{"transform":[{"filter":"datum.s=='rd'"}],"mark":{"type":"line","color":"#ff0000","strokeWidth":1.4,"strokeDash":[12,4,2,4,2,4,2,4],"clip":true,"interpolate":"monotone"}},
{"transform":[{"filter":"datum.s=='rl'"}],"mark":{"type":"line","color":"#ff0000","strokeWidth":3,"clip":true,"interpolate":"monotone"}},
{"transform":[{"filter":"datum.s=='rs'"}],"mark":{"type":"rule","color":"#ff2020","strokeWidth":1,"clip":true},"encoding":{"y":{"field":"lo","type":"quantitative","scale":{"type":"log","domain":[4.91e3,2.47e6],"nice":false}},"y2":{"field":"hi"}}},
{"transform":[{"filter":"datum.s=='rs'"}],"mark":{"type":"point","shape":"M-1,0L1,0","filled":false,"color":"#ff2020","strokeWidth":1,"size":64,"opacity":1,"clip":true},"encoding":{"y":{"field":"lo","type":"quantitative","scale":{"type":"log","domain":[4.91e3,2.47e6],"nice":false}}}},
{"transform":[{"filter":"datum.s=='rs'"}],"mark":{"type":"point","shape":"M-1,0L1,0","filled":false,"color":"#ff2020","strokeWidth":1,"size":64,"opacity":1,"clip":true},"encoding":{"y":{"field":"hi","type":"quantitative","scale":{"type":"log","domain":[4.91e3,2.47e6],"nice":false}}}},
{"transform":[{"filter":"datum.s=='bc'"}],"mark":{"type":"point","shape":"circle","filled":true,"color":"#0000ff","size":100,"opacity":1,"clip":true}},
{"transform":[{"filter":"datum.s=='bm'"}],"mark":{"type":"point","shape":"circle","filled":true,"fill":"#6f86ff","stroke":"#0000ff","strokeWidth":2.5,"size":36,"opacity":1,"clip":true}},
{"transform":[{"filter":"datum.s=='rs'"}],"mark":{"type":"point","shape":"M0,-1L0.247,-0.34L0.951,-0.309L0.399,0.13L0.588,0.809L0,0.42L-0.588,0.809L-0.399,0.13L-0.951,-0.309L-0.247,-0.34Z","filled":true,"color":"#ff0000","size":340,"opacity":1,"clip":true}},
{"transform":[{"filter":"datum.s=='lab'"}],"mark":{"type":"text","align":"left","baseline":"middle","font":"DejaVu Serif","fontSize":20,"color":"#000"},"encoding":{"text":{"field":"t"}}}
]}
],
"columns":2,
"spacing":{"row":85,"column":86},
"bounds":"flush"
}
